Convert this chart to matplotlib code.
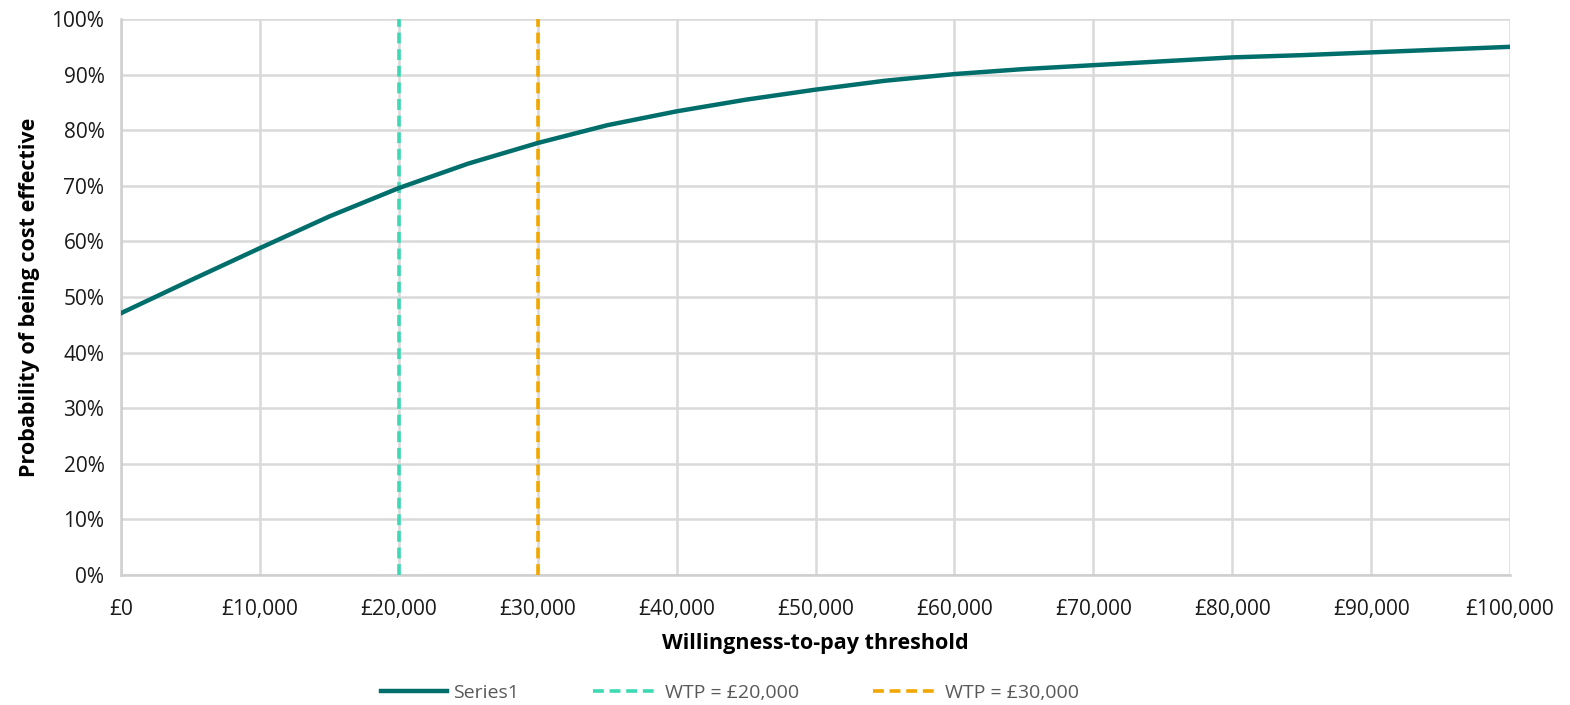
"""Cost-effectiveness acceptability curve with WTP threshold markers."""
import matplotlib
matplotlib.use("Agg")
import matplotlib.pyplot as plt
from matplotlib.ticker import FuncFormatter

plt.rcParams["font.family"] = ["Open Sans", "DejaVu Sans"]

wtp = [0, 5000, 10000, 15000, 20000, 25000, 30000, 35000, 40000, 45000, 50000,
       55000, 60000, 65000, 70000, 75000, 80000, 85000, 90000, 95000, 100000]
prob = [0.471, 0.530, 0.588, 0.645, 0.696, 0.740, 0.777, 0.809, 0.834, 0.855, 0.873,
        0.889, 0.901, 0.910, 0.917, 0.924, 0.931, 0.935, 0.940, 0.945, 0.950]
thresholds = [20000, 30000]
threshold_labels = ["WTP = £20,000", "WTP = £30,000"]
threshold_colors = ["#3dd9b3", "#f2a600"]

fig = plt.figure(figsize=(15.7, 7.05), dpi=100)
ax = fig.add_axes([0.0771, 0.1844, 0.8847, 0.7886])

ax.plot(wtp, prob, color="#006e6b", lw=3.2, label="Series1", zorder=4)
for x, lab, c in zip(thresholds, threshold_labels, threshold_colors):
    ax.axvline(x, color=c, lw=2.6, ls=(0, (3, 1.6)), label=lab, zorder=3)

ax.set_xlim(0, 100000)
ax.set_ylim(0, 1)
ax.set_xticks(range(0, 100001, 10000))
ax.set_yticks([i / 10 for i in range(11)])
ax.xaxis.set_major_formatter(FuncFormatter(lambda v, p: f"£{int(v):,}"))
ax.yaxis.set_major_formatter(FuncFormatter(lambda v, p: f"{v:.0%}"))
ax.grid(True, color="#d9d9d9", lw=1.8)
ax.set_axisbelow(True)
for side in ["top", "right"]:
    ax.spines[side].set_visible(False)
for side in ["left", "bottom"]:
    ax.spines[side].set_color("#cfcfcf")
    ax.spines[side].set_linewidth(1.8)
ax.tick_params(length=0, labelsize=15, colors="#1a1a1a")
ax.tick_params(axis="x", pad=17)
ax.tick_params(axis="y", pad=12)

ax.set_xlabel("Willingness-to-pay threshold", fontsize=15.5, fontweight="bold", labelpad=10)
ax.set_ylabel("Probability of being cost effective", fontsize=15.5, fontweight="bold", labelpad=8)

leg = fig.legend(loc="lower center", bbox_to_anchor=(0.465, -0.02), ncol=3, frameon=False,
                 fontsize=14, handlelength=3.4, columnspacing=3.8, handletextpad=0.3)
for t in leg.get_texts():
    t.set_color("#595959")

fig.savefig("out.png", dpi=100)
